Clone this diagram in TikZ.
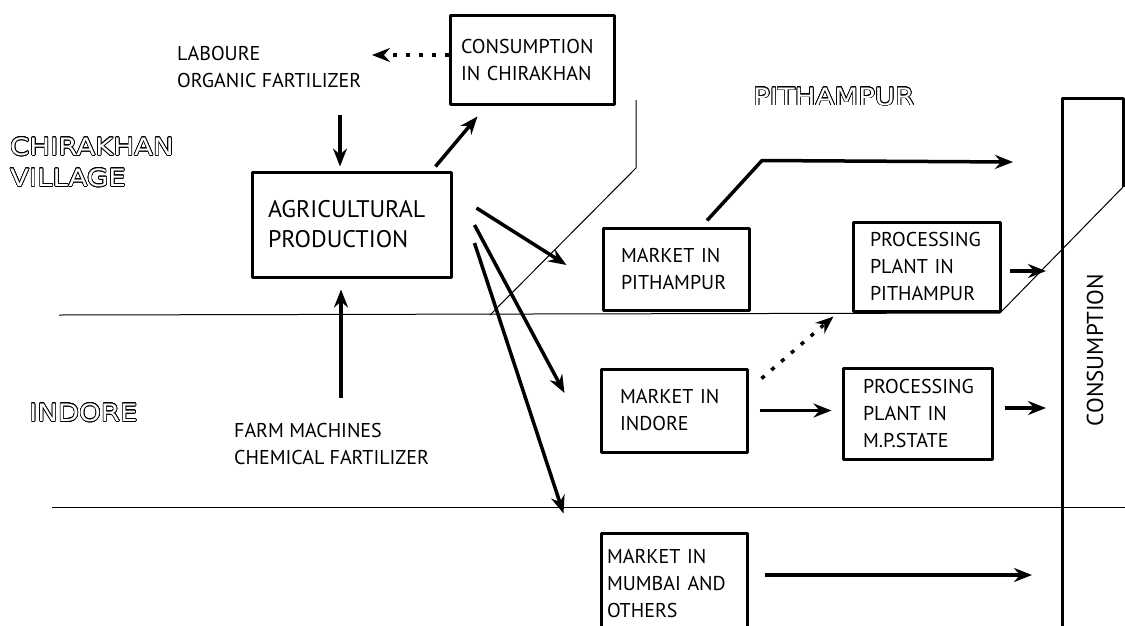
\documentclass[tikz,border=0pt]{standalone}
\usepackage{fontspec}
\setmainfont{PT Sans}
\newfontfamily\hollowfont[FakeStretch=1.15]{DejaVu Sans}
\usepackage{contour}
\contourlength{0.65pt}
\contournumber{24}
\usetikzlibrary{arrows.meta}
\tikzset{
	box/.style={draw, line width=3pt, align=left, inner ysep=0pt, font=\fontsize{20}{27}\selectfont},
	lbl/.style={inner sep=0pt, align=left, font=\fontsize{20}{27}\selectfont},
	zone/.style={inner sep=0pt, align=left, text=white, font=\hollowfont\fontsize{24}{31}\selectfont},
	flow/.style={line width=3.5pt, ->},
	dotflow/.style={line width=3.5pt, dash pattern=on 4pt off 9pt, ->},
	zoneline/.style={line width=1pt},
}
\begin{document}
\begin{tikzpicture}[x=1pt, y=-1pt, line join=round, >={Stealth[length=18pt,width=14pt,inset=6pt]}]
	\clip (0,0) rectangle (1125,625);
	% boxes
	\node[box, text width=142pt, inner xsep=11pt, minimum height=89pt] (cons) at (532,59.5) {CONSUMPTION\\IN CHIRAKHAN};
	\node[box, text width=167pt, inner xsep=16pt, minimum height=105pt, font=\fontsize{24}{30}\selectfont] (agri) at (351.5,224.5) {AGRICULTURAL\\PRODUCTION};
	\node[box, text width=110pt, inner xsep=18pt, minimum height=82pt] (mktP) at (676,269) {MARKET IN\\PITHAMPUR};
	\node[box, text width=113pt, inner xsep=17pt, minimum height=89pt] (ppP) at (926.5,266.5) {PROCESSING\\PLANT IN\\PITHAMPUR};
	\node[box, text width=108pt, inner xsep=19pt, minimum height=83pt] (mktI) at (674,410.5) {MARKET IN\\INDORE};
	\node[box, text width=109pt, inner xsep=20pt, minimum height=91pt] (ppM) at (917.5,413.5) {PROCESSING\\PLANT IN\\M.P.STATE};
	\node[box, text width=134pt, inner xsep=6pt, minimum height=100pt] (mktM) at (674,583) {MARKET IN\\MUMBAI AND\\OTHERS};
	% labels
	\node[lbl, anchor=west] (labour) at (177,66.5) {LABOURE\\ORGANIC FARTILIZER};
	\node[lbl, anchor=west] (farm) at (234,443.5) {FARM MACHINES\\CHEMICAL FARTILIZER};
	\node[zone, anchor=west] (village) at (10,162.5) {\contour{black}{CHIRAKHAN}\\\contour{black}{VILLAGE}};
	\node[zone, anchor=west] (pithampur) at (753,97) {\contour{black}{PITHAMPUR}};
	\node[zone, anchor=west] (indore) at (29,413) {\contour{black}{INDORE}};
	\node[rotate=90, inner sep=0pt, font=\fontsize{23}{28}\selectfont] (consCol) at (1095,350) {CONSUMPTION};
	% zone borders
	\draw[zoneline] (59,315) -- (1000,313) -- (1123,187);
	\draw[zoneline] (636,100) -- (636,168) -- (490,315);
	\draw[zoneline] (52,507) -- (1125,507);
	\draw[line width=3pt] (1123,187) -- (1123,98) -- (1062,98) -- (1062,640);
	% arrow ends
	\coordinate (labIn) at (340,115);
	\coordinate (farmIn) at (341,398);
	\coordinate (labOut) at (372,55);
	\coordinate (toCol1) at (1013,162);
	\coordinate (toCol2) at (1046,271);
	\coordinate (toCol3) at (1046,408);
	\coordinate (toCol4) at (1032,575);
	% flows
	\draw[flow, shorten >=4pt] (labIn) -- (labIn |- agri.north);
	\draw[flow, shorten >=11pt] (farmIn) -- (farmIn |- agri.south);
	\draw[dotflow] (cons.west |- labOut) -- (labOut);
	\draw[flow] ([shift={(-17,-4)}]agri.north east) -- ([shift={(29,11)}]cons.south west);
	\draw[flow] ([shift={(24,-16.5)}]agri.east) -- ([shift={(-35,-4)}]mktP.west);
	\draw[flow] ([shift={(22,0.5)}]agri.east) -- ([shift={(-35,-17.5)}]mktI.west);
	\draw[flow] ([shift={(22,18.5)}]agri.east) -- ([shift={(-36,-18)}]mktM.north west);
	\draw[flow, line join=miter] ([shift={(31,-6)}]mktP.north) -- ++(55,-60) -- (toCol1);
	\draw[flow, shorten <=8pt] (ppP.east |- toCol2) -- (toCol2);
	\draw[flow] ([xshift=11pt]mktI.east) -- ([xshift=-10pt]ppM.west |- mktI.east);
	\draw[flow, shorten <=11pt] (ppM.east |- toCol3) -- (toCol3);
	\draw[dotflow] ([shift={(13,11)}]mktI.north east) -- ([shift={(-18,4)}]ppP.south west);
	\draw[flow, shorten <=16pt] (mktM.east |- toCol4) -- (toCol4);
\end{tikzpicture}
\end{document}
